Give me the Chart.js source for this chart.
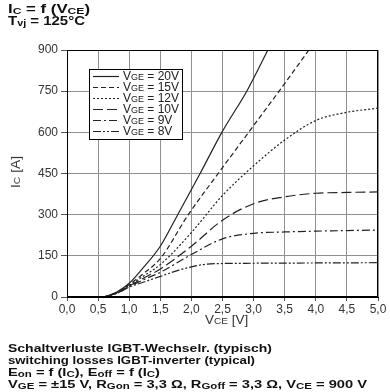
<!DOCTYPE html>
<html>
<head>
<meta charset="utf-8">
<script src="https://cdn.jsdelivr.net/npm/chart.js@4/dist/chart.umd.min.js"></script>
<style>
  body { margin: 0; background: #fff; }
  #wrap { position: relative; width: 390px; height: 392px; font-family: "Liberation Sans", Arial, sans-serif; color: #111; }
  #wrap canvas { position: absolute; left: 0; top: 0; }
  .txt { position: absolute; left: 8px; font-weight: bold; font-size: 11.5px; line-height: 12px; white-space: nowrap;
         transform-origin: 0 0; }
  .txt sub { font-size: 9px; vertical-align: 0; position: relative; top: 1px; }
  .axis { position: absolute; font-size: 12px; color: #333; white-space: nowrap; }
  .axis sub { font-size: 9px; vertical-align: 0; }
</style>
</head>
<body>
<div id="wrap">
  <canvas id="chart" width="390" height="392"></canvas>
  <div class="txt" data-w="82" style="top:3px; font-size:12.5px;">I<sub>C</sub> = f (V<sub>CE</sub>)</div>
  <div class="txt" data-w="77" style="top:15px; font-size:12.5px;">T<sub>vj</sub> = 125°C</div>
  <div class="axis" style="left:205px; top:313px; transform: scaleX(1.12); transform-origin: 0 0;">V<sub>CE</sub> [V]</div>
  <div class="axis" style="left:2px; top:165px; transform: rotate(-90deg) scaleX(1.15);">I<sub>C</sub> [A]</div>
  <div class="txt" data-w="264" style="top:342px">Schaltverluste IGBT-Wechselr. (typisch)</div>
  <div class="txt" data-w="247" style="top:354px">switching losses IGBT-inverter (typical)</div>
  <div class="txt" data-w="152" style="top:366px">E<sub>on</sub> = f (I<sub>C</sub>), E<sub>off</sub> = f (I<sub>C</sub>)</div>
  <div class="txt" data-w="359" style="top:378px">V<sub>GE</sub> = ±15 V, R<sub>Gon</sub> = 3,3 Ω, R<sub>Goff</sub> = 3,3 Ω, V<sub>CE</sub> = 900 V</div>
</div>
<script>
// Werte (V_CE in V, I_C in A)
var vge20_x = [0.6, 0.8, 1.0, 1.2, 1.5, 1.78, 2.14, 2.49, 2.89, 3.23];
var vge20_y = [0, 18, 50, 100, 185, 300, 450, 600, 750, 900];

var vge15_x = [0.6, 0.8, 1.0, 1.2, 1.5, 1.95, 2.43, 2.92, 3.41, 3.89];
var vge15_y = [0, 16, 45, 80, 140, 300, 450, 600, 750, 900];

var vge12_x = [0.6, 0.8, 1.0, 1.2, 1.5, 2.0, 2.5, 3.0, 3.5, 4.0, 4.5, 5.0];
var vge12_y = [0, 15, 42, 72, 118, 235, 370, 478, 572, 643, 673, 688];

var vge10_x = [0.6, 0.8, 1.0, 1.2, 1.5, 2.0, 2.5, 3.0, 3.5, 4.0, 4.5, 5.0];
var vge10_y = [0, 15, 40, 65, 102, 185, 280, 340, 365, 378, 381, 383];

var vge9_x = [0.6, 0.8, 1.0, 1.2, 1.5, 2.0, 2.5, 3.0, 3.5, 4.0, 4.5, 5.0];
var vge9_y = [0, 14, 38, 60, 90, 155, 212, 232, 237, 240, 242, 244];

var vge8_x = [0.6, 0.8, 1.0, 1.2, 1.5, 1.8, 2.0, 2.25, 2.5, 3.0, 4.0, 5.0];
var vge8_y = [0, 13, 36, 52, 75, 98, 110, 120, 122, 123, 124, 125];

var legendNames = ['20V', '15V', '12V', '10V', '9V', '8V'];
var xTicks = [0, 0.5, 1, 1.5, 2, 2.5, 3, 3.5, 4, 4.5, 5];
var yTicks = [0, 150, 300, 450, 600, 750, 900];

// Texte auf die Breite im Original strecken
document.querySelectorAll('.txt').forEach(function (el) {
  var w = el.getBoundingClientRect().width;
  el.style.transform = 'scaleX(' + (parseFloat(el.dataset.w) / w) + ')';
});

function pts(xs, ys) {
  return xs.map(function (x, i) { return { x: x, y: ys[i] }; });
}

var dashes = [[], [5, 3], [2, 2], [10, 4], [8, 3, 2, 3], [8, 2, 2, 2, 2, 2]];
var allData = [
  pts(vge20_x, vge20_y), pts(vge15_x, vge15_y), pts(vge12_x, vge12_y),
  pts(vge10_x, vge10_y), pts(vge9_x, vge9_y), pts(vge8_x, vge8_y)
];

var datasets = allData.map(function (d, i) {
  return {
    label: 'VGE = ' + legendNames[i],
    data: d,
    borderColor: '#222',
    borderWidth: 1.2,
    borderDash: dashes[i],
    pointRadius: 0,
    fill: false,
    cubicInterpolationMode: 'monotone'
  };
});

// Rahmen um die Zeichenfläche
var frame = {
  id: 'frame',
  afterDatasetsDraw: function (chart) {
    var a = chart.chartArea, c = chart.ctx;
    c.save();
    c.strokeStyle = '#000';
    c.lineWidth = 1;
    c.strokeRect(a.left + 0.5, a.top + 0.5, a.right - a.left - 1, a.bottom - a.top - 1);
    c.restore();
  }
};

// Legende im Diagramm mit tiefgestellten Indizes
var boxLegend = {
  id: 'boxLegend',
  afterDraw: function (chart) {
    var c = chart.ctx;
    var x0 = 89, y0 = 69, w = 93, h = 70;
    c.save();
    c.fillStyle = '#fff';
    c.fillRect(x0, y0, w, h);
    c.strokeStyle = '#000';
    c.lineWidth = 1;
    c.strokeRect(x0 + 0.5, y0 + 0.5, w, h);
    chart.data.datasets.forEach(function (ds, i) {
      var y = 76 + i * 11;
      c.strokeStyle = '#222';
      c.lineWidth = 1.2;
      c.setLineDash(ds.borderDash);
      c.beginPath();
      c.moveTo(93, y + 0.5);
      c.lineTo(119, y + 0.5);
      c.stroke();
      c.setLineDash([]);
      c.fillStyle = '#222';
      c.textBaseline = 'middle';
      var tx = 123;
      c.font = '12px "Liberation Sans", Arial';
      c.fillText('V', tx, y + 1);
      tx += c.measureText('V').width;
      c.font = '9px "Liberation Sans", Arial';
      c.fillText('GE', tx, y + 2);
      tx += c.measureText('GE').width;
      c.font = '12px "Liberation Sans", Arial';
      c.fillText(' = ' + legendNames[i], tx, y + 1);
    });
    c.restore();
  }
};

var chart = new Chart(document.getElementById('chart').getContext('2d'), {
  type: 'line',
  data: { datasets: datasets },
  options: {
    responsive: false,
    devicePixelRatio: 1,
    animation: false,
    layout: { padding: { left: 25, right: 12, top: 50, bottom: 66 } },
    plugins: { legend: { display: false }, tooltip: { enabled: false } },
    scales: {
      x: {
        type: 'linear', min: 0, max: 5,
        afterFit: function (s) { s.height = 29; },
        afterBuildTicks: function (s) { s.ticks = xTicks.map(function (v) { return { value: v }; }); },
        ticks: {
          color: '#333', font: { family: '"Liberation Sans", Arial', size: 12 }, padding: 1,
          callback: function (v) { return v.toFixed(1).replace('.', ','); }
        },
        grid: { color: '#909090', lineWidth: 1, tickLength: 4, tickColor: '#555' },
        border: { color: '#000' }
      },
      y: {
        type: 'linear', min: 0, max: 900,
        afterFit: function (s) { s.width = 42; },
        afterBuildTicks: function (s) { s.ticks = yTicks.map(function (v) { return { value: v }; }); },
        ticks: { color: '#333', font: { family: '"Liberation Sans", Arial', size: 12 }, padding: 3 },
        grid: { color: '#909090', lineWidth: 1, tickLength: 6, tickColor: '#555' },
        border: { color: '#000' }
      }
    }
  },
  plugins: [frame, boxLegend]
});
</script>
</body>
</html>
